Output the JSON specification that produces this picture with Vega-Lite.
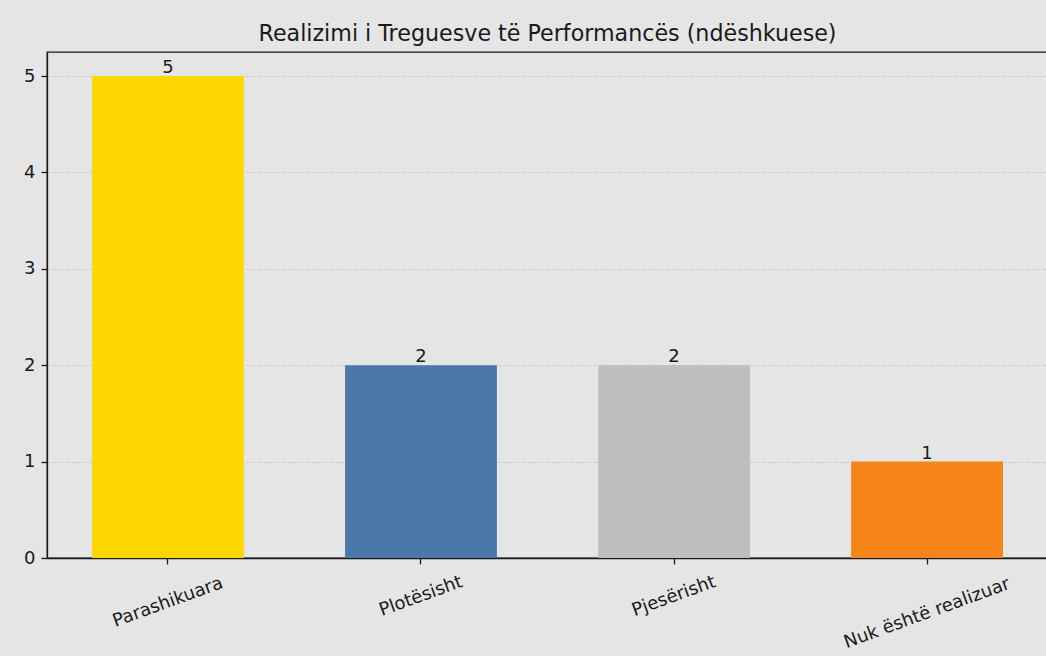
{
  "$schema": "https://vega.github.io/schema/vega-lite/v6.json",
  "autosize": {"type": "none"},
  "padding": {"left": 47, "top": 52, "right": 0, "bottom": 98},
  "width": 1001,
  "height": 506,
  "background": "#e5e5e5",
  "config": {
    "view": {"fill": "#e5e5e5", "stroke": "#1a1a1a", "strokeWidth": 1.3},
    "font": "DejaVu Sans"
  },
  "title": {
    "text": "Realizimi i Treguesve të Performancës (ndëshkuese)",
    "font": "DejaVu Sans",
    "fontSize": 22.2,
    "fontWeight": "normal",
    "color": "#1a1a1a",
    "anchor": "middle",
    "baseline": "alphabetic",
    "offset": -11
  },
  "data": {
    "values": [
      {"kategoria": "Parashikuara", "vlera": 5},
      {"kategoria": "Plotësisht", "vlera": 2},
      {"kategoria": "Pjesërisht", "vlera": 2},
      {"kategoria": "Nuk është realizuar", "vlera": 1}
    ]
  },
  "encoding": {
    "x": {
      "field": "kategoria",
      "type": "nominal",
      "sort": null,
      "scale": {"paddingInner": 0.4, "paddingOuter": 0.178},
      "axis": {
        "title": null,
        "domain": true,
        "domainColor": "#1a1a1a",
        "domainWidth": 1.3,
        "ticks": true,
        "tickSize": 6,
        "tickWidth": 1.3,
        "tickColor": "#1a1a1a",
        "labelAngle": -20,
        "labelAlign": "center",
        "labelBaseline": "middle",
        "labelFont": "DejaVu Sans",
        "labelFontSize": 18,
        "labelColor": "#1a1a1a",
        "labelOverlap": false,
        "labelFlush": false,
        "labelBound": false,
        "labelLimit": 0,
        "labelPadding": {
          "condition": [
            {"test": "datum.value == 'Parashikuara'", "value": 38},
            {"test": "datum.value == 'Nuk është realizuar'", "value": 49}
          ],
          "value": 32
        }
      }
    },
    "y": {
      "field": "vlera",
      "type": "quantitative",
      "scale": {"domain": [0, 5.25], "nice": false},
      "axis": {
        "title": null,
        "domain": true,
        "domainColor": "#1a1a1a",
        "domainWidth": 1.3,
        "values": [0, 1, 2, 3, 4, 5],
        "format": "d",
        "grid": true,
        "gridDash": [4, 2],
        "gridColor": "#cdcdcd",
        "gridWidth": 1,
        "gridOpacity": {"condition": {"test": "datum.value == 0", "value": 0}, "value": 1},
        "tickSize": 6,
        "tickWidth": 1.3,
        "tickColor": "#1a1a1a",
        "labelPadding": 6,
        "labelFont": "DejaVu Sans",
        "labelFontSize": 18,
        "labelColor": "#1a1a1a"
      }
    }
  },
  "layer": [
    {
      "mark": {"type": "bar"},
      "encoding": {
        "color": {
          "field": "kategoria",
          "type": "nominal",
          "scale": {
            "domain": ["Parashikuara", "Plotësisht", "Pjesërisht", "Nuk është realizuar"],
            "range": ["#ffd700", "#4b78a8", "#bebebe", "#f58518"]
          },
          "legend": null
        }
      }
    },
    {
      "mark": {"type": "text", "dy": -3, "baseline": "alphabetic", "fontSize": 18, "font": "DejaVu Sans", "color": "#1a1a1a"},
      "encoding": {"text": {"field": "vlera", "type": "quantitative"}}
    }
  ]
}
